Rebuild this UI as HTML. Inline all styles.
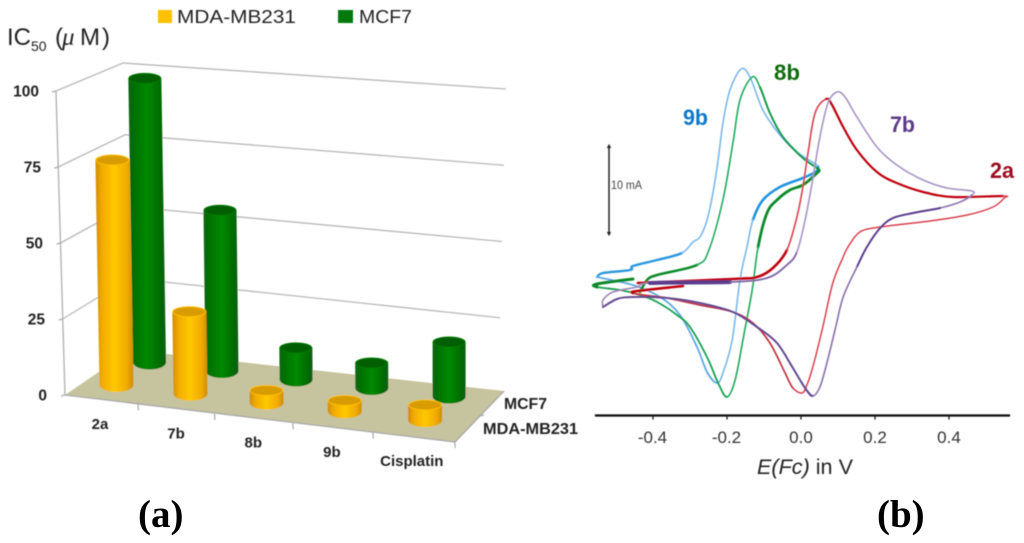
<!DOCTYPE html>
<html lang="en">
<head>
<meta charset="utf-8">
<title>IC50 bar chart and cyclic voltammograms</title>
<style>
html,body{margin:0;padding:0;background:#fff;width:1024px;height:543px;overflow:hidden}
svg{display:block}
text{font-family:"Liberation Sans",sans-serif}
</style>
</head>
<body>
<svg id="fig" xmlns="http://www.w3.org/2000/svg" width="1024" height="543" viewBox="0 0 1024 543">
<defs>
<linearGradient id="gradYellow" x1="0" x2="1" y1="0" y2="0">
<stop offset="0" stop-color="#d08c00"/><stop offset=".18" stop-color="#f2ac00"/><stop offset=".5" stop-color="#ffc800"/><stop offset=".82" stop-color="#f2ac00"/><stop offset="1" stop-color="#d08c00"/>
</linearGradient>
<linearGradient id="gradGreen" x1="0" x2="1" y1="0" y2="0">
<stop offset="0" stop-color="#0b6412"/><stop offset=".2" stop-color="#007400"/><stop offset=".5" stop-color="#008a00"/><stop offset=".8" stop-color="#007000"/><stop offset="1" stop-color="#0b5c12"/>
</linearGradient>
<filter id="soft" x="-5%" y="-5%" width="110%" height="110%"><feGaussianBlur stdDeviation="0.4"/></filter>
</defs>

<g id="chartA" filter="url(#soft)">
  <rect x="158" y="10" width="14" height="13" fill="#ffc000"/>
  <text x="177" y="23" font-size="18" textLength="119" lengthAdjust="spacingAndGlyphs" fill="#222">MDA-MB231</text>
  <rect x="338" y="10" width="15" height="13" fill="#007a10"/>
  <text x="359" y="23" font-size="18" textLength="53" lengthAdjust="spacingAndGlyphs" fill="#222">MCF7</text>
  <text y="45" font-size="24" fill="#222"><tspan x="7">IC</tspan><tspan x="31" dy="6" font-size="14">50</tspan><tspan x="55" dy="-6">(</tspan><tspan x="62" font-size="25" font-style="italic" style="font-family:'Liberation Serif',serif">μ</tspan><tspan x="80">M</tspan><tspan x="102">)</tspan></text>
</g>

<g id="chartB" filter="url(#soft)">
  <text x="683" y="125" font-size="22" font-weight="bold" fill="#0a78c8" textLength="25" lengthAdjust="spacingAndGlyphs">9b</text>
  <text x="774" y="80" font-size="22" font-weight="bold" fill="#106b10" textLength="26" lengthAdjust="spacingAndGlyphs">8b</text>
  <text x="890" y="132" font-size="22" font-weight="bold" fill="#5b3a86" textLength="25" lengthAdjust="spacingAndGlyphs">7b</text>
  <text x="990" y="178" font-size="22" font-weight="bold" fill="#9b1020" textLength="24" lengthAdjust="spacingAndGlyphs">2a</text>
  <text x="611" y="189" font-size="12" fill="#444" textLength="31" lengthAdjust="spacingAndGlyphs">10 mA</text>
  <text x="757" y="474" font-size="21" fill="#222" textLength="96" lengthAdjust="spacingAndGlyphs"><tspan font-style="italic">E(Fc)</tspan> in V</text>
</g>

<text x="138" y="527" font-size="39" font-weight="bold" style="font-family:'Liberation Serif',serif" fill="#000">(a)</text>
<text x="877" y="527" font-size="39" font-weight="bold" style="font-family:'Liberation Serif',serif" fill="#000">(b)</text>
</svg>

<script>
/* ---------- panel (a) data ---------- */
const categories = ['2a', '7b', '8b', '9b', 'Cisplatin'];
const mdaValues = [74, 27, 4, 3.6, 5];
const mcfValues = [99, 56, 11, 8.7, 19];
const yTicks = [0, 25, 50, 75, 100];

/* ---------- panel (b) data: E in V, I in mA ---------- */
const xTicks = [-0.4, -0.2, 0, 0.2, 0.4];
const scaleBarSpan = [5, 15];

const cv9bE = [-.551,-.535,-.462,-.454,-.389,-.322,-.292,-.273,-.254,-.238,-.224,-.211,-.192,-.162,-.138,-.103,-.057,-.011,.043,.046,.043,.005,-.057,-.103,-.130,-.146,-.165,-.186,-.211,-.227,-.254,-.281,-.327,-.381,-.454,-.551];
const cv9bI = [.33,.78,1.11,1.56,2.22,3,4.22,4.78,6.67,9.67,13.33,17.44,21.11,23.44,22.56,18.89,16.11,14.22,12.78,12.56,12.11,11.33,10.33,8.89,6.67,3.67,0,-6.67,-10.33,-11.44,-10.22,-7.44,-3.89,-1.89,-.56,.33];

const cv8bE = [-.435,-.416,-.389,-.281,-.249,-.211,-.184,-.165,-.132,-.111,-.084,-.049,.005,.046,.043,.005,-.030,-.065,-.092,-.116,-.132,-.157,-.178,-.200,-.224,-.254,-.300,-.335,-.389,-.435,-.489,-.551,-.551,-.454];
const cv8bI = [-1.33,0,.56,1.67,3.33,8.89,15.22,20,22.56,21.44,18.56,15.89,13.56,12.33,11.89,10.56,10,8.89,7.44,3.67,-1.11,-6.67,-11.11,-13,-11.44,-8.56,-5.22,-3.89,-2.44,-1.67,-1.11,-.78,-.44,.11];

const cv2aE = [-.441,-.184,-.119,-.076,-.038,-.011,.005,.019,.038,.068,.084,.114,.151,.205,.259,.330,.411,.546,.549,.519,.449,.349,.214,.159,.127,.114,.086,.059,.032,.016,.003,-.022,-.043,-.084,-.130,-.184,-.273,-.362,-.427,-.454,-.443,-.319];
const cv2aI = [-.33,.11,.33,1.33,3.33,7,10.33,14.11,18.56,20.11,19.44,17,14.44,12,10.78,9.78,9.22,9.33,9.11,8.11,7.22,6.56,5.89,5.33,3.67,2.56,-.33,-5.22,-9.67,-11.67,-12.56,-12,-10.33,-7,-4.78,-3.56,-2.78,-2,-1.67,-1.44,-1.22,-.67];

const cv7bE = [-.535,-.535,-.508,-.443,-.408,-.192,-.092,-.038,-.011,.011,.030,.051,.073,.097,.119,.151,.205,.259,.330,.395,.462,.462,.430,.376,.303,.249,.214,.178,.151,.114,.092,.070,.051,.032,.011,-.022,-.065,-.119,-.184,-.273,-.362,-.454,-.497,-.535];
const cv7bI = [-3,-2.22,-1.33,-.78,-.33,-.22,.22,1.67,3.11,6.67,10.78,15.89,19.67,20.89,20.33,18.11,14.78,12.78,11.11,10.22,9.89,9.44,8.67,8,7.44,6.89,5.78,3.67,1.44,-1.89,-5.56,-9.22,-11.89,-12.89,-12,-9.78,-7,-5.22,-3.56,-2.56,-2,-1.89,-2.11,-3];

/* ---------- helpers ---------- */
const NS = 'http://www.w3.org/2000/svg';
function make(tag, attrs, parent, text) {
  const el = document.createElementNS(NS, tag);
  for (const k in attrs) el.setAttribute(k, attrs[k]);
  if (text !== undefined) el.textContent = text;
  parent.appendChild(el);
  return el;
}
const chartA = document.getElementById('chartA');
const chartB = document.getElementById('chartB');

/* ---------- panel (a) axes ---------- */
const frontX = v => 65 - 0.09 * v;
const frontY = v => 395 - 3.04 * v;
const backLeftX = v => 131 - 0.08 * v;
const backLeftY = v => 350 - 2.87 * v;
const backRightX = v => 498 + 0.08 * v;
const backRightY = v => 394 - 3.05 * v;

const floor = make('polygon', {points: '65,395 131,350 504,391 455,442', fill: '#c6c49e'}, chartA);



const yAxis = make('line', {x1: frontX(100), y1: frontY(100), x2: frontX(0), y2: frontY(0), stroke: '#b4b4b4', 'stroke-width': 1.4}, chartA);



yTicks.forEach(v => {
  if (v > 0) {
    const grid = make('polyline', {
      points: frontX(v) + ',' + frontY(v) + ' ' + backLeftX(v) + ',' + backLeftY(v) + ' ' + backRightX(v) + ',' + backRightY(v),
      fill: 'none', stroke: '#b8b8b8', 'stroke-width': 1.3
    }, chartA);
    
    
  }
  const tick = make('line', {x1: frontX(v) - 4, y1: frontY(v) + 1, x2: frontX(v), y2: frontY(v), stroke: '#aaa', 'stroke-width': 1.2}, chartA);
  
  
  const label = make('text', {x: 47 - 0.08 * v, y: frontY(v) + 5.5, 'text-anchor': 'end', 'font-size': 15.5, 'font-weight': 'bold', fill: '#222'}, chartA, String(v));
  
  
});

const frontEdge = make('line', {x1: 65, y1: 395, x2: 455, y2: 442, stroke: '#a8a8a8', 'stroke-width': 1.3}, chartA);


const sideEdge = make('line', {x1: 455, y1: 442, x2: 504, y2: 391, stroke: '#a8a8a8', 'stroke-width': 1.3}, chartA);


const depthTick = make('line', {x1: 479, y1: 416, x2: 484, y2: 415, stroke: '#a8a8a8', 'stroke-width': 1.2}, chartA);



const catX = i => 138 + 76.5 * i + 0.9 * i * (i - 1);
const catEdgeY = i => 404.5 + 9.4 * i;
const catLabelX = i => 100 + 76 * i + 0.65 * i * (i - 1);
categories.forEach((c, i) => {
  const t = make('line', {x1: catX(i), y1: catEdgeY(i), x2: catX(i) + 0.4, y2: catEdgeY(i) + 6, stroke: '#a8a8a8', 'stroke-width': 1.2}, chartA);
  
  
  const lbl = make('text', {x: catLabelX(i), y: 429 + 9.3 * i, 'text-anchor': 'middle', 'font-size': 15, 'font-weight': 'bold', fill: '#222'}, chartA, c);
  
  
});

const depth1 = make('text', {x: 504, y: 409, 'font-size': 15.5, 'font-weight': 'bold', fill: '#222', textLength: 43, lengthAdjust: 'spacingAndGlyphs'}, chartA, 'MCF7');


const depth2 = make('text', {x: 483, y: 434, 'font-size': 16, 'font-weight': 'bold', fill: '#222', textLength: 95, lengthAdjust: 'spacingAndGlyphs'}, chartA, 'MDA-MB231');



/* ---------- panel (a) bars ---------- */
function cylinder(cat, value, row) {
  const front = row === 'front';
  const bx = front ? 116.5 + 74 * cat + 1.05 * cat * (cat - 1) : 149.5 + 72.5 * cat + 0.8 * cat * (cat - 1);
  const by = front ? 385 + 8.8 * cat : 362.5 + 8.5 * cat;
  const unit = front ? 3.04 : 2.87;
  const h = value * unit;
  const rx = front ? 17 : 16.5;
  const lean = h * 0.0165 * (1 - bx / 450) / 0.67;
  const tx = bx - lean;
  const ty = by - h;
  const side = make('path', {
    d: 'M' + (tx - rx) + ' ' + ty + ' L' + (bx - rx) + ' ' + by +
       ' A' + rx + ' 7 0 0 0 ' + (bx + rx) + ' ' + by +
       ' L' + (tx + rx) + ' ' + ty + ' Z',
    fill: front ? 'url(#gradYellow)' : 'url(#gradGreen)'
  }, chartA);
  
  
  const top = make('ellipse', {
    cx: tx, cy: ty, rx: rx - 0.5, ry: 5,
    fill: front ? '#d89c00' : '#005f00',
    stroke: front ? '#ffbe00' : '#007a00', 'stroke-width': 1
  }, chartA);
  
  
}
mcfValues.forEach((v, i) => cylinder(i, v, 'back'));
mdaValues.forEach((v, i) => cylinder(i, v, 'front'));

/* ---------- panel (b) axes ---------- */
const xE = e => 801 + 370 * e;
const yI = i => 280 - 9 * i;

const axisB = make('line', {x1: xE(-0.557), y1: 415.5, x2: xE(0.565), y2: 415.5, stroke: '#111', 'stroke-width': 2.2}, chartB);


xTicks.forEach(e => {
  const t = make('line', {x1: xE(e), y1: 415, x2: xE(e), y2: 419.5, stroke: '#111', 'stroke-width': 1.2}, chartB);
  
  
  const l = make('text', {x: xE(e) + (e < 0 ? -0.5 : 0), y: 443, 'text-anchor': 'middle', 'font-size': 17, fill: '#333'}, chartB, e.toFixed(1));
  
  
});

const scaleBar = make('line', {x1: 609, y1: yI(scaleBarSpan[1]), x2: 609, y2: yI(scaleBarSpan[0]), stroke: '#222', 'stroke-width': 1.5}, chartB);


const capTop = make('polygon', {points: '609,' + (yI(scaleBarSpan[1]) - 1) + ' 606.8,' + (yI(scaleBarSpan[1]) + 3) + ' 611.2,' + (yI(scaleBarSpan[1]) + 3), fill: '#222'}, chartB);


const capBottom = make('polygon', {points: '609,' + (yI(scaleBarSpan[0]) + 1) + ' 606.8,' + (yI(scaleBarSpan[0]) - 3) + ' 611.2,' + (yI(scaleBarSpan[0]) - 3), fill: '#222'}, chartB);



/* ---------- panel (b) curves ---------- */
function splinePath(Es, Is, from, to) {
  const pts = Es.map((e, i) => [xE(e), yI(Is[i])]);
  let d = 'M' + pts[from][0].toFixed(1) + ' ' + pts[from][1].toFixed(1);
  for (let i = from; i < to; i++) {
    const p0 = pts[Math.max(i - 1, 0)], p1 = pts[i], p2 = pts[i + 1], p3 = pts[Math.min(i + 2, pts.length - 1)];
    const c1x = p1[0] + (p2[0] - p0[0]) / 6, c1y = p1[1] + (p2[1] - p0[1]) / 6;
    const c2x = p2[0] - (p3[0] - p1[0]) / 6, c2y = p2[1] - (p3[1] - p1[1]) / 6;
    d += ' C' + c1x.toFixed(1) + ' ' + c1y.toFixed(1) + ' ' + c2x.toFixed(1) + ' ' + c2y.toFixed(1) + ' ' + p2[0].toFixed(1) + ' ' + p2[1].toFixed(1);
  }
  return d;
}
function drawCurve(name, Es, Is, styles) {
  styles.forEach(s => {
    const path = make('path', {d: splinePath(Es, Is, s[0], s[1]), fill: 'none', stroke: s[2], 'stroke-width': s[3], 'stroke-linecap': 'round', 'stroke-linejoin': 'round'}, chartB);
    
    
  });
}
drawCurve('9b', cv9bE, cv9bI, [
  [0, 5, '#2a96de', 2.4], [5, 19, '#78b8ea', 1.6], [19, 24, '#2494e0', 2.6], [24, 29, '#78b8ea', 1.6], [29, 35, '#5ea8e2', 1.8]
]);
drawCurve('8b', cv8bE, cv8bI, [
  [0, 3, '#0a8a2a', 2.6], [3, 9, '#20a860', 1.6], [9, 13, '#12974a', 2], [13, 19, '#0a8a2a', 2.8], [19, 23, '#1ea85a', 1.6], [23, 31, '#18a050', 1.8], [31, 33, '#0a8a2a', 3]
]);
drawCurve('2a', cv2aE, cv2aI, [
  [0, 4, '#c00010', 2.6], [4, 9, '#d8404e', 1.6], [9, 17, '#c00010', 2.2], [17, 31, '#d8404e', 1.5], [31, 39, '#c03040', 1.7], [39, 41, '#c00010', 2.6]
]);
drawCurve('7b', cv7bE, cv7bI, [
  [0, 4, '#9c86b8', 1.6], [4, 5, '#5a3d8c', 4], [5, 8, '#7c64a4', 1.8], [8, 21, '#a594c2', 1.6], [21, 23, '#8c78b0', 1.6], [23, 28, '#5a3d8c', 2], [28, 33, '#8470aa', 1.6], [33, 43, '#63488f', 2]
]);
</script>
</body>
</html>
